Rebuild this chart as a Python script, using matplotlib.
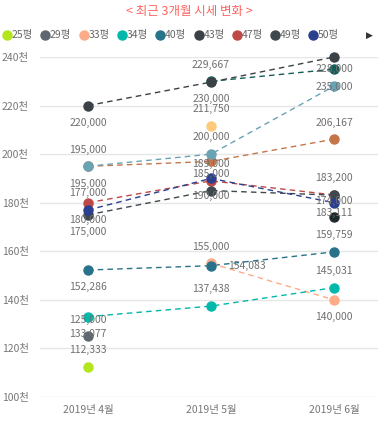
import numpy as np
import matplotlib
matplotlib.use('Agg')
import matplotlib.pyplot as plt

plt.rcParams['font.family'] = ['Noto Sans CJK KR', 'DejaVu Sans']

nan = np.nan
months = ['2019년 4월', '2019년 5월', '2019년 6월']

# values per size group (평)
v25 = [112333, nan, nan]
v29 = [125000, nan, nan]
v33 = [nan, 155000, 140000]
v34 = [133077, 137438, 145031]
v40 = [152286, 154083, 159759]
v43 = [220000, 229667, 240000]
v47 = [180000, 189000, 183200]
v49 = [175000, 185000, 183111]
v50 = [177000, 190000, 180000]
v53 = [195000, 200000, 228000]
v55 = [195000, 197000, 206167]
v57 = [nan, 211750, nan]
v58 = [nan, 230000, 235000]
v60 = [nan, nan, 174000]

names = ['25평', '29평', '33평', '34평', '40평', '43평', '47평', '49평', '50평',
         '53평', '55평', '57평', '58평', '60평']
values = [v25, v29, v33, v34, v40, v43, v47, v49, v50, v53, v55, v57, v58, v60]
colors = ['#B3E61D', '#5F6770', '#FDAB89', '#01B8AA', '#28738A', '#3A4247',
          '#BE4A47', '#3F484D', '#2A3F8E', '#6AA3B4', '#C4754A', '#FDC97A',
          '#135F57', '#1E2A2C']
# where the data label sits: a=above, b=below, r=right, ''=hidden
label_pos = [['a', '', ''], ['a', '', ''], ['', 'a', 'b'], ['b', 'a', 'a'],
             ['b', 'r', 'a'], ['b', 'a', ''], ['b', 'a', 'a'], ['b', 'a', 'b'],
             ['a', 'b', ''], ['a', 'a', 'a'], ['b', '', 'a'], ['', 'a', ''],
             ['', 'b', 'b'], ['', '', 'a']]
# which series end up on top of which
draw_order = [12, 10, 9, 11, 13, 0, 1, 2, 3, 4, 5, 6, 7, 8]

W, H = 379, 421
fig = plt.figure(figsize=(W / 100, H / 100), dpi=100)
ax = fig.add_axes([40 / W, 1 - 397 / H, 338 / W, 340 / H])

x = np.arange(len(months))
for k in draw_order:
    ax.plot(x, values[k], ls=(0, (4, 3)), lw=1, color=colors[k], zorder=2)
for k in draw_order:
    ax.plot(x, values[k], ls='none', marker='o', ms=6.5, color=colors[k],
            zorder=3, clip_on=False)

for vals, pos in zip(values, label_pos):
    for i, v in enumerate(vals):
        p = pos[i]
        if np.isnan(v) or p == '':
            continue
        txt = f'{int(v):,}'
        if p == 'a':
            ax.annotate(txt, (i, v), xytext=(0, 12), textcoords='offset points',
                        ha='center', va='center', fontsize=7.5, color='#707070', zorder=4)
        elif p == 'b':
            ax.annotate(txt, (i, v), xytext=(0, -12.5), textcoords='offset points',
                        ha='center', va='center', fontsize=7.5, color='#707070', zorder=4)
        else:
            ax.annotate(txt, (i, v), xytext=(12, 0), textcoords='offset points',
                        ha='left', va='center', fontsize=7.5, color='#707070', zorder=4)

ax.set_xlim(-48 / 123, 2 + 44 / 123)
ax.set_ylim(100000, 240000)
yt = np.arange(100000, 240001, 20000)
ax.set_yticks(yt)
ax.set_yticklabels([f'{t // 1000}천' for t in yt])
ax.set_xticks(x)
ax.set_xticklabels(months)
ax.tick_params(length=0, labelsize=7.5, labelcolor='#777777')
ax.tick_params(axis='y', pad=8)
ax.tick_params(axis='x', pad=6)
ax.grid(axis='y', color='#E6E6E6', lw=1)
ax.set_axisbelow(True)
for s in ax.spines.values():
    s.set_visible(False)

# title and legend in pixel coords
ov = fig.add_axes([0, 0, 1, 1], facecolor='none')
ov.set_xlim(0, W)
ov.set_ylim(H, 0)
ov.axis('off')
ov.text(W / 2, 12, '< 최근 3개월 시세 변화 >', ha='center', va='center',
        fontsize=9, color='#FD625E')
leg_x = [7, 45, 84, 122, 160, 199, 237, 275, 313]
for lx, n, c in zip(leg_x, names[:9], colors[:9]):
    ov.plot(lx, 35, 'o', ms=6.5, color=c)
    ov.text(lx + 5, 35, n, ha='left', va='center', fontsize=7.5, color='#666666')
ov.text(369, 35, '▶', ha='center', va='center', fontsize=6.5, color='#333333',
        family=['DejaVu Sans'])

fig.savefig('out.png', dpi=100)
